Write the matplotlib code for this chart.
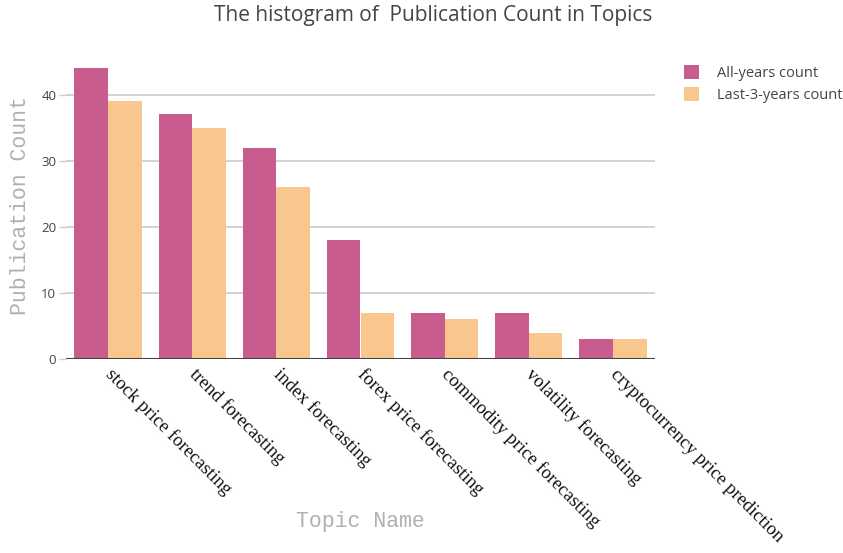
import matplotlib
matplotlib.use("Agg")
import matplotlib.pyplot as plt
import numpy as np

# data
topics = ["stock price forecasting", "trend forecasting", "index forecasting",
          "forex price forecasting", "commodity price forecasting",
          "volatility forecasting", "cryptocurrency price prediction"]
all_years = [44, 37, 32, 18, 7, 7, 3]
last_3_years = [39, 35, 26, 7, 6, 4, 3]

pink = "#c85c8e"
orange = "#f9c78d"

fig = plt.figure(figsize=(8.43, 5.53), dpi=100)
ax = fig.add_axes([66 / 843, 1 - 359 / 553, 589 / 843, 306 / 553])

x = np.arange(len(topics))
w = 0.4
ax.bar(x - w / 2, all_years, width=w, color=pink, label="All-years count", zorder=2)
ax.bar(x + w / 2, last_3_years, width=w, color=orange, label="Last-3-years count", zorder=2)

ax.set_xlim(-0.5, len(topics) - 0.5)
ax.set_ylim(0, 46.3)
ax.set_yticks([0, 10, 20, 30, 40])
ax.yaxis.grid(True, color="#cccccc", linewidth=1.2, zorder=0)
ax.axhline(0, color="#444444", linewidth=1.5, zorder=3)
for s in ax.spines.values():
    s.set_visible(False)

ax.tick_params(axis="y", length=5, width=1, color="#cccccc", labelcolor="#444444",
               labelsize=9.5, pad=2)
for lbl in ax.get_yticklabels():
    lbl.set_fontfamily("Open Sans")

ax.set_xticks(x)
ax.set_xticklabels(topics, rotation=-45, ha="left", va="center",
                   rotation_mode="anchor", fontfamily="Liberation Serif",
                   fontsize=13.5, color="#111111")
ax.tick_params(axis="x", length=0, pad=9)

ax.set_ylabel("Publication Count", fontfamily="Liberation Mono", fontsize=15.5,
              color="#b0b0b0", labelpad=7)
ax.set_xlabel("Topic Name", fontfamily="Liberation Mono", fontsize=15.5,
              color="#b0b0b0")
ax.xaxis.set_label_coords(0.5, -0.497)

fig.text(433 / 843, 1 - 15 / 553, "The histogram of  Publication Count in Topics",
         ha="center", va="center", fontfamily="Open Sans", fontsize=15,
         color="#444444")

leg = ax.legend(loc="upper left", bbox_to_anchor=(671 / 843, 1 - 52 / 553),
                bbox_transform=fig.transFigure, frameon=False,
                prop={"family": "Open Sans", "size": 10.5},
                handlelength=1.05, handleheight=1.05, handletextpad=1.2,
                labelspacing=0.45, labelcolor="#444444")

fig.savefig("out.png", dpi=100)
